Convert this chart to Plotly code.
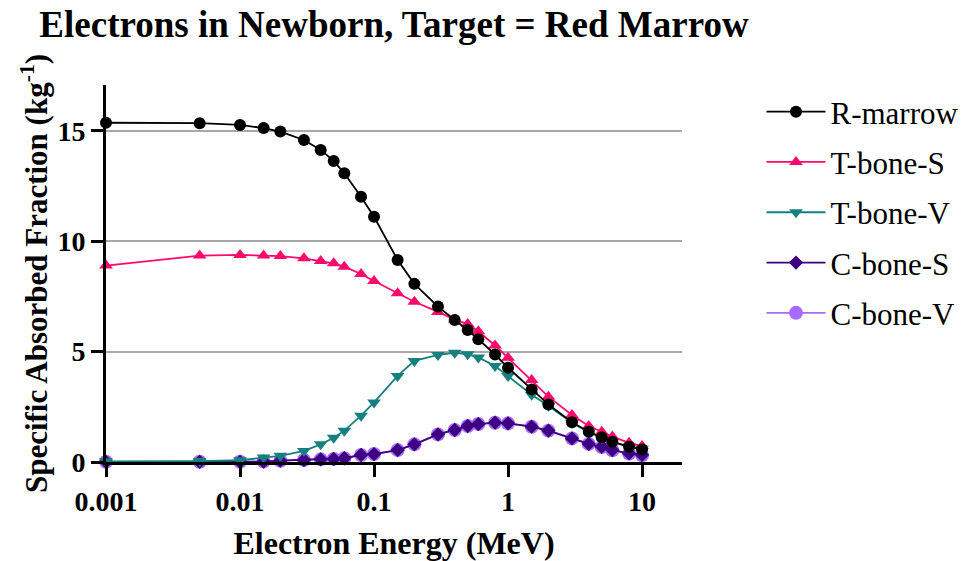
import plotly.graph_objects as go

# Electron energies (MeV)
energy = [0.001, 0.005, 0.01, 0.015, 0.02, 0.03, 0.04, 0.05, 0.06, 0.08, 0.1,
          0.15, 0.2, 0.3, 0.4, 0.5, 0.6, 0.8, 1, 1.5, 2, 3, 4, 5, 6, 8, 10]

# Specific absorbed fraction (kg^-1) per source region
r_marrow = [15.37, 15.35, 15.27, 15.13, 14.97, 14.59, 14.14, 13.64, 13.08, 12.02, 11.11,
            9.15, 8.07, 7.04, 6.43, 5.98, 5.56, 4.87, 4.27, 3.29, 2.61, 1.80, 1.37, 1.12, 0.92, 0.69, 0.57]
t_bone_s = [8.90, 9.35, 9.38, 9.35, 9.33, 9.23, 9.11, 9.00, 8.85, 8.52, 8.20,
            7.64, 7.26, 6.80, 6.45, 6.25, 5.92, 5.28, 4.72, 3.72, 2.96, 2.13, 1.63, 1.37, 1.15, 0.87, 0.72]
t_bone_v = [0.03, 0.04, 0.08, 0.20, 0.28, 0.50, 0.80, 1.10, 1.42, 2.10, 2.70,
            3.90, 4.58, 4.85, 4.95, 4.88, 4.74, 4.35, 3.90, 3.05, 2.55, 1.78, 1.35, 1.08, 0.90, 0.70, 0.60]
c_bone_s = [0.01, 0.01, 0.01, 0.02, 0.06, 0.09, 0.12, 0.14, 0.17, 0.32, 0.36,
            0.54, 0.80, 1.25, 1.45, 1.63, 1.72, 1.78, 1.75, 1.60, 1.42, 1.07, 0.82, 0.69, 0.54, 0.39, 0.32]
c_bone_v = [0.01, 0.01, 0.01, 0.02, 0.06, 0.09, 0.12, 0.14, 0.17, 0.32, 0.36,
            0.54, 0.80, 1.25, 1.45, 1.63, 1.72, 1.78, 1.75, 1.60, 1.42, 1.07, 0.82, 0.68, 0.53, 0.38, 0.30]

x_ticks = [0.001, 0.01, 0.1, 1, 10]
x_tick_text = ["0.001", "0.01", "0.1", "1", "10"]
y_ticks = [0, 5, 10, 15]

series = [
    ("R-marrow", r_marrow, "#000000", "circle", 12),
    ("T-bone-S", t_bone_s, "#ff0a6c", "triangle-up", 12),
    ("T-bone-V", t_bone_v, "#168080", "triangle-down", 12),
    ("C-bone-S", c_bone_s, "#3d0080", "diamond", 11),
    ("C-bone-V", c_bone_v, "#a86bff", "circle", 14),
]

FONT = "Liberation Serif, Times New Roman, serif"

fig = go.Figure()
# draw the lower-priority series first so R-marrow sits on top
for i in [4, 3, 2, 1, 0]:
    name, vals, color, sym, size = series[i]
    fig.add_trace(go.Scatter(
        x=energy, y=vals, name=name, mode="lines+markers",
        line=dict(color=color, width=1.8),
        marker=dict(symbol=sym, size=size, color=color, line=dict(width=0)),
        cliponaxis=False, legendgroup=name, legendrank=i + 1,
    ))

axis_common = dict(
    ticks="outside", ticklen=12, tickwidth=3, tickcolor="black",
    showline=True, linecolor="black", linewidth=3, zeroline=False,
    tickfont=dict(size=28, family=FONT, color="black", weight="bold"),
)

fig.update_layout(
    width=965, height=561,
    margin=dict(l=106, r=283, t=85, b=99, autoexpand=False),
    plot_bgcolor="white", paper_bgcolor="white",
    font=dict(family=FONT, color="black"),
    title=dict(text="Electrons in Newborn, Target = Red Marrow",
               x=0.5, xref="paper", xanchor="center", y=0.958, yanchor="middle",
               font=dict(size=37, family=FONT, color="black", weight="bold")),
    showlegend=True,
    legend=dict(x=1.138, xanchor="left", y=1.0, yanchor="top",
                font=dict(size=31, family=FONT, color="black"),
                tracegroupgap=7, traceorder="grouped",
                bgcolor="rgba(0,0,0,0)", itemwidth=59),
    xaxis=dict(
        type="log", range=[-3.0, 1.298],
        tickvals=x_ticks, ticktext=x_tick_text, showgrid=False,
        title=dict(text="Electron Energy (MeV)", standoff=19,
                   font=dict(size=32, family=FONT, color="black", weight="bold")),
        **axis_common,
    ),
    yaxis=dict(
        range=[0, 17.08], tickvals=y_ticks,
        showgrid=True, gridcolor="#a8a8a8", gridwidth=2,
        title=dict(text="Specific Absorbed Fraction (kg<sup>-1</sup>)", standoff=1,
                   font=dict(size=31, family=FONT, color="black", weight="bold")),
        **axis_common,
    ),
)

fig.write_html("out.html")
